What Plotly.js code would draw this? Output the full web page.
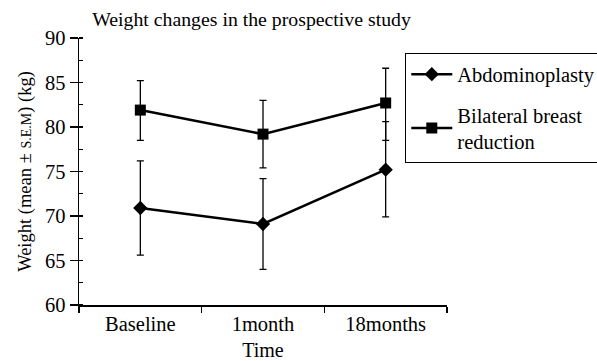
<!DOCTYPE html>
<html>
<head>
<meta charset="utf-8">
<script src="https://cdn.plot.ly/plotly-3.0.1.min.js"></script>
<style>html,body{margin:0;padding:0;background:#fff;}#chart{width:597px;height:361px;}</style>
</head>
<body>
<div id="chart"></div>
<script>
var categories = ["Baseline", "1month", "18months"];
var abdoName = "Abdominoplasty";
var abdoMean = [70.9, 69.1, 75.2];
var abdoErrPlus = [5.3, 5.1, 5.4];
var abdoErrMinus = [5.3, 5.1, 5.3];
var bbrName = "Bilateral breast<br>reduction";
var bbrMean = [81.9, 79.2, 82.7];
var bbrErrPlus = [3.3, 3.8, 3.9];
var bbrErrMinus = [3.4, 3.8, 4.2];
var yTickVals = [60, 65, 70, 75, 80, 85, 90];

var font = "Liberation Serif";
function errBar(plus, minus) {
  return {type: "data", symmetric: false, array: plus, arrayminus: minus,
          color: "#000", thickness: 1.3, width: 3.5, visible: true};
}
var traces = [
  {x: categories, y: abdoMean, name: abdoName, type: "scatter", mode: "lines+markers",
   line: {color: "#000", width: 2.5}, marker: {symbol: "diamond", size: 11, color: "#000"},
   error_y: errBar(abdoErrPlus, abdoErrMinus), legendgroup: "a"},
  {x: categories, y: bbrMean, name: bbrName, type: "scatter", mode: "lines+markers",
   line: {color: "#000", width: 2.5}, marker: {symbol: "square", size: 11, color: "#000"},
   error_y: errBar(bbrErrPlus, bbrErrMinus), legendgroup: "b"}
];
var layout = {
  width: 597, height: 361,
  margin: {l: 79, r: 150, t: 38, b: 56, autoexpand: false},
  paper_bgcolor: "#fff", plot_bgcolor: "#fff",
  font: {family: font, size: 20, color: "#000"},
  title: {text: "Weight changes in the prospective study", font: {family: font, size: 19.8, color: "#000"},
          x: 251.5/597, xanchor: "center", xref: "container", y: 1 - 19/361, yanchor: "middle", yref: "container"},
  xaxis: {type: "category", range: [-0.5, 2.5], showline: true, linecolor: "#000", linewidth: 1.5,
          ticks: "outside", tickson: "boundaries", ticklen: 6, tickwidth: 1.3, tickcolor: "#000",
          showgrid: false, zeroline: false, fixedrange: true, automargin: false,
          tickfont: {family: font, size: 20.5, color: "#000"},
          title: {text: "Time", font: {family: font, size: 20, color: "#000"}, standoff: 18}},
  yaxis: {range: [60, 90], showline: true, linecolor: "#000", linewidth: 1.5,
          tickmode: "array", tickvals: yTickVals, ticktext: yTickVals.map(String),
          ticks: "outside", ticklen: 8, tickwidth: 1.3, tickcolor: "#000",
          minor: {ticks: "inside", ticklen: 4, tickwidth: 1.3, tickcolor: "#000", dtick: 2.5, tick0: 60, showgrid: false},
          showgrid: false, zeroline: false, fixedrange: true, automargin: false,
          tickfont: {family: font, size: 20.5, color: "#000"},
          title: {text: "Weight (mean ± <span style='font-size:14px'>S.E.M</span>) (kg)", font: {family: font, size: 18.5, color: "#000"}, standoff: 8}},
  showlegend: true,
  legend: {x: 326/368, y: (305-53)/267, xanchor: "left", yanchor: "top",
           bgcolor: "#fff", bordercolor: "#000", borderwidth: 1.3,
           font: {family: font, size: 20.5, color: "#000"},
           traceorder: "grouped", tracegroupgap: 11, itemwidth: 41}
};
Plotly.newPlot("chart", traces, layout, {displayModeBar: false, staticPlot: true});
</script>
</body>
</html>
